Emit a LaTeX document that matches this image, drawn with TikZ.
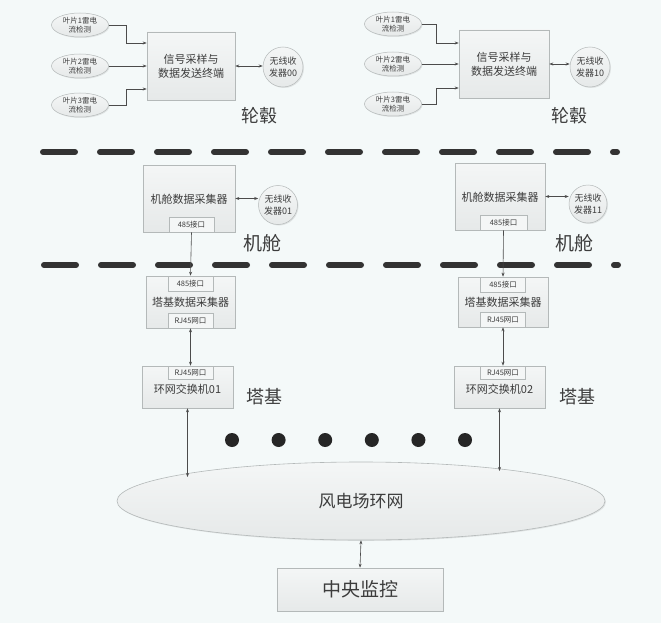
\documentclass[tikz,border=0pt]{standalone}
\usepackage{fontspec}
\setmainfont{Noto Sans CJK SC}
\usetikzlibrary{shapes.geometric,arrows.meta,shadows}
\definecolor{bg}{HTML}{F4F9F9}
\definecolor{boxfill}{HTML}{E6E9E9}
\definecolor{boxtop}{HTML}{F4F6F6}
\definecolor{boxline}{HTML}{B4B9B9}
\definecolor{txt}{HTML}{3C3C3C}
\tikzset{
  shade/.style={drop shadow={shadow xshift=1pt,shadow yshift=-1pt,opacity=0.18}},
  mainbox/.style={rectangle,draw=boxline,line width=0.6pt,top color=boxtop,bottom color=boxfill,
    inner sep=0pt,text=txt,align=center,shade},
  port/.style={rectangle,draw=boxline,line width=0.5pt,fill=boxtop,inner sep=0pt,
    minimum width=45pt,minimum height=15pt,text=txt,font=\fontsize{7.5}{9}\selectfont},
  sensor/.style={ellipse,draw=boxline,line width=0.5pt,top color=boxtop,bottom color=boxfill,
    minimum width=57pt,minimum height=24pt,inner sep=0pt,align=center,text=txt,
    font=\fontsize{7.5}{9.5}\selectfont,shade},
  radio/.style={circle,draw=boxline,line width=0.5pt,top color=boxtop,bottom color=boxfill,
    minimum size=40pt,inner sep=0pt,align=center,text=txt,font=\fontsize{9}{12}\selectfont,shade},
  zone/.style={text=txt,font=\fontsize{18}{18}\selectfont,inner sep=0pt},
  conn/.style={-{Stealth[length=4pt,width=3pt]},draw=black!70,line width=0.6pt},
  biconn/.style={{Stealth[length=4pt,width=3pt]}-{Stealth[length=4pt,width=3pt]},draw=black!70,line width=0.6pt},
  divider/.style={draw=black!80,line width=6pt,line cap=round,dash pattern=on 32pt off 25pt},
  dotmark/.style={circle,fill=black!85,minimum size=14pt,inner sep=0pt}
}
\begin{document}
\begin{tikzpicture}[x=1pt,y=-1pt]
\useasboundingbox (0,0) rectangle (661,623);
\fill[bg] (0,0) rectangle (661,623);

% ---------------- hub, left
\node[sensor] (sa1) at (80,25) {叶片1雷电\\流检测};
\node[sensor] (sa2) at (80,66) {叶片2雷电\\流检测};
\node[sensor] (sa3) at (80,105) {叶片3雷电\\流检测};
\node[mainbox,minimum width=88pt,minimum height=68pt,font=\fontsize{11}{14}\selectfont] (ha) at (191,66) {信号采样与\\数据发送终端};
\node[radio] (ra) at (283,67) {无线收\\发器00};
\node[zone] (la) at (259,116) {轮毂};
\draw[conn] (sa1.east) -- ++(18pt,0pt) |- ([yshift=23pt]ha.west);
\draw[conn] (sa2.east) -- (sa2.east -| ha.west);
\draw[conn] (sa3.east) -- ++(18pt,0pt) |- ([yshift=-23pt]ha.west);
\draw[biconn] (ha.east) -- (ha.east -| ra.west);

% ---------------- hub, right
\node[sensor] (sb1) at (393,24) {叶片1雷电\\流检测};
\node[sensor] (sb2) at (393,64) {叶片2雷电\\流检测};
\node[sensor] (sb3) at (393,104) {叶片3雷电\\流检测};
\node[mainbox,minimum width=90pt,minimum height=68pt,font=\fontsize{11}{14}\selectfont] (hb) at (504,64) {信号采样与\\数据发送终端};
\node[radio] (rb) at (590,67) {无线收\\发器10};
\node[zone] (lb) at (569,116) {轮毂};
\draw[conn] (sb1.east) -- ++(15pt,0pt) |- ([yshift=21pt]hb.west);
\draw[conn] (sb2.east) -- (sb2.east -| hb.west);
\draw[conn] (sb3.east) -- ++(15pt,0pt) |- ([yshift=-24pt]hb.west);
\draw[biconn] (hb.east) -- (hb.east -| rb.west);

% ---------------- dividers
\draw[divider] (43,152) -- (617,152);
\draw[divider] (44,265) -- (618,265);

% ---------------- nacelle, left
\node[mainbox,minimum width=92pt,minimum height=67pt] (na) at (189,198.5) {};
\node[text=txt,font=\fontsize{11}{13}\selectfont] at (189,199) {机舱数据采集器};
\node[port,anchor=south] (pa) at (na.south -| 191.5,0) {485接口};
\node[radio,minimum size=39pt] (rna) at (278,205) {无线收\\发器01};
\node[zone,font=\fontsize{19}{19}\selectfont] at (262,243) {机舱};
\draw[biconn] (na.east) -- (na.east -| rna.west);

% ---------------- nacelle, right
\node[mainbox,minimum width=90pt,minimum height=67pt] (nb) at (500,196.5) {};
\node[text=txt,font=\fontsize{11}{13}\selectfont] at (500,197) {机舱数据采集器};
\node[port,anchor=south,minimum width=47pt] (pb) at (nb.south -| 503.5,0) {485接口};
\node[radio,minimum size=38pt] (rnb) at (588,204) {无线收\\发器11};
\node[zone,font=\fontsize{19}{19}\selectfont] at (574,243) {机舱};
\draw[biconn] (nb.east) -- (nb.east -| rnb.west);

% ---------------- tower, left
\node[mainbox,minimum width=89pt,minimum height=52pt] (ta) at (190.5,302) {};
\node[text=txt,font=\fontsize{11}{13}\selectfont] at (190.5,302.5) {塔基数据采集器};
\node[port,anchor=north] (tat) at (ta.north) {485接口};
\node[port,anchor=south] (tab) at (ta.south) {RJ45网口};
\node[mainbox,minimum width=91pt,minimum height=42pt] (wa) at (187.5,387) {};
\node[port,anchor=north,minimum height=13pt] (wap) at (wa.north -| 190.5,0) {RJ45网口};
\node[text=txt,font=\fontsize{11}{13}\selectfont] at (187.5,389) {环网交换机01};
\node[zone] at (264,397) {塔基};
\draw[conn] (pa.south) -- (tat.north);
\draw[biconn] (tab.south) -- (wap.north);

% ---------------- tower, right
\node[mainbox,minimum width=90pt,minimum height=50pt] (tb) at (503,302) {};
\node[text=txt,font=\fontsize{11}{13}\selectfont] at (503,302.5) {塔基数据采集器};
\node[port,anchor=north] (tbt) at (tb.north) {485接口};
\node[port,anchor=south] (tbb) at (tb.south) {RJ45网口};
\node[mainbox,minimum width=91pt,minimum height=42pt] (wb) at (499.5,387) {};
\node[port,anchor=north,minimum height=13pt] (wbp) at (wb.north -| 503,0) {RJ45网口};
\node[text=txt,font=\fontsize{11}{13}\selectfont] at (499.5,389) {环网交换机02};
\node[zone] at (577,397) {塔基};
\draw[conn] (pb.south) -- (tbt.north);
\draw[biconn] (tbb.south) -- (wbp.north);

% ---------------- dots
\foreach \i in {0,...,5} \node[dotmark] (dt\i) at (232+46.6*\i,440) {};

% ---------------- ring
\node[ellipse,draw=boxline,line width=0.6pt,top color=boxtop,bottom color=boxfill,
  minimum width=488pt,minimum height=78pt,inner sep=0pt,text=txt,
  font=\fontsize{17}{17}\selectfont,shade] (ring) at (361,501) {风电场环网};
\coordinate (ja) at (wa.south |- 0,477);
\coordinate (jb) at (499.5,471);
\draw[biconn] (wa.south) -- (ja);
\draw[biconn] (wb.south) -- (jb);

% ---------------- central
\node[mainbox,minimum width=166pt,minimum height=43pt,font=\fontsize{19}{19}\selectfont] (ctr) at (360,589.5) {中央监控};
\draw[biconn] (ring.south) -- (ctr.north);
\end{tikzpicture}
\end{document}
